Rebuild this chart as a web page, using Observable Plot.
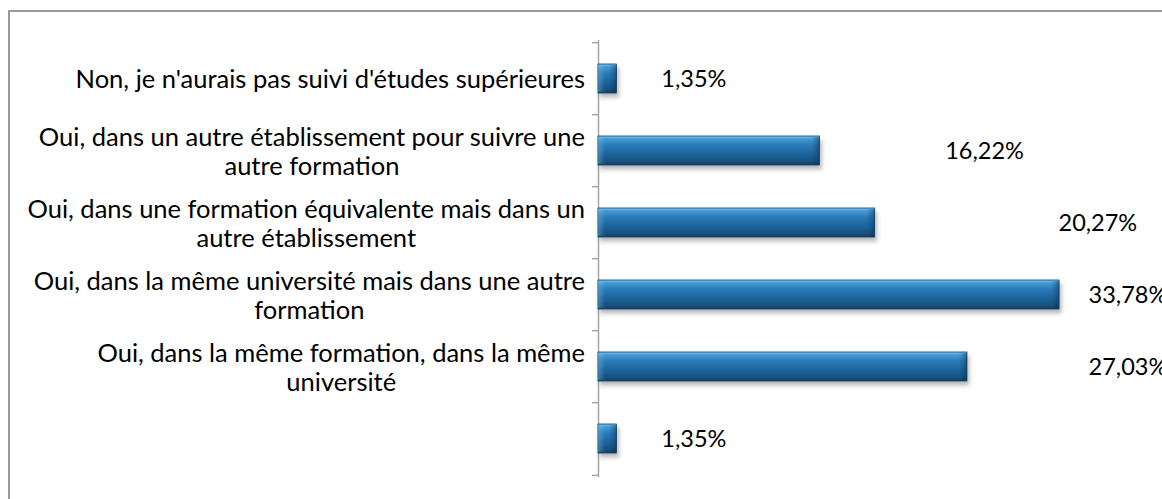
<!DOCTYPE html>
<html>
<head>
<meta charset="utf-8">
<script src="https://cdn.jsdelivr.net/npm/d3@7"></script>
<script src="https://cdn.jsdelivr.net/npm/@observablehq/plot@0.6"></script>
<style>
  html, body { margin: 0; padding: 0; background: #fff; }
  #wrap { position: relative; width: 1162px; height: 499px; overflow: hidden; background: #fff; }
  #frame { position: absolute; left: 8px; top: 10px; width: 1300px; height: 700px; border: 2px solid #9a9a9a; box-sizing: border-box; }
  #chart { position: absolute; left: 0; top: 0; }
</style>
</head>
<body>
<div id="wrap"><div id="frame"></div><div id="chart"></div></div>
<script>
const categories = [
  "Non, je n'aurais pas suivi d'études supérieures",
  "Oui, dans un autre établissement pour suivre une\nautre formation",
  "Oui, dans une formation équivalente mais dans un\nautre établissement",
  "Oui, dans la même université mais dans une autre\nformation",
  "Oui, dans la même formation, dans la même\nuniversité",
  ""
];
const values = [1.35, 16.22, 20.27, 33.78, 27.03, 1.35];
const valueLabels = ["1,35%", "16,22%", "20,27%", "33,78%", "27,03%", "1,35%"];
const labelX = [4.6, 25.4, 33.7, 35.9, 35.9, 4.6];

const data = categories.map((c, i) => ({cat: c, value: values[i], label: valueLabels[i], lx: labelX[i]}));

const FONT = "Lato, 'Liberation Sans', sans-serif";
const axisColor = "#a6a6a6";

const svg = Plot.plot({
  width: 1162,
  height: 499,
  marginLeft: 598,
  marginRight: 18,
  marginTop: 40,
  marginBottom: 22,
  style: {fontFamily: FONT, fontSize: "22px", color: "#000", background: "transparent", overflow: "visible"},
  x: {domain: [0, 40], axis: null},
  y: {domain: categories, axis: null, paddingInner: 0.6, paddingOuter: 0.3},
  marks: [
    Plot.ruleX([0], {stroke: axisColor, strokeWidth: 1.5}),
    Plot.ruleY(categories, {y: d => d, x1: -0.45, x2: 0, dy: -36.4, stroke: axisColor, strokeWidth: 1.5}),
    Plot.ruleY(categories.slice(-1), {y: d => d, x1: -0.45, x2: 0, dy: 36.4, stroke: axisColor, strokeWidth: 1.5}),
    Plot.barX(data, {x: "value", y: "cat", fill: "url(#barGrad)", stroke: "#11426a", strokeWidth: 0.8}),
    // bevelled ends (decoration, anchored on the bar ends through the scales)
    Plot.barX(data, {x1: "value", x2: "value", y: "cat", insetLeft: -8, insetTop: 1, insetBottom: 1, fill: "url(#endGrad)"}),
    Plot.barX(data, {x1: 0, x2: 0, y: "cat", insetRight: -7, insetTop: 1, insetBottom: 1, fill: "url(#startGrad)"}),
    Plot.text(data, {x: 0, y: "cat", text: "cat", textAnchor: "middle", lineAnchor: "middle", lineHeight: 1.13, fontSize: 25.5, fill: "#000"}),
    Plot.text(data, {x: "lx", y: "cat", text: "label", textAnchor: "start", fontSize: 23.5, fill: "#000"})
  ]
});

document.getElementById("chart").appendChild(svg);

// gradient + shadow defs
const ns = "http://www.w3.org/2000/svg";
const defs = document.createElementNS(ns, "defs");
defs.innerHTML = `
  <linearGradient id="barGrad" x1="0" y1="0" x2="0" y2="1">
    <stop offset="0" stop-color="#7cc0ec"/>
    <stop offset="0.1" stop-color="#449bd6"/>
    <stop offset="0.3" stop-color="#2b7bb8"/>
    <stop offset="0.6" stop-color="#1e669f"/>
    <stop offset="0.88" stop-color="#16537f"/>
    <stop offset="1" stop-color="#0e3a5e"/>
  </linearGradient>
  <linearGradient id="endGrad" x1="0" y1="0" x2="1" y2="0">
    <stop offset="0" stop-color="#0a2c48" stop-opacity="0"/>
    <stop offset="0.6" stop-color="#0a2c48" stop-opacity="0.25"/>
    <stop offset="1" stop-color="#0a2c48" stop-opacity="0.5"/>
  </linearGradient>
  <linearGradient id="startGrad" x1="0" y1="0" x2="1" y2="0">
    <stop offset="0" stop-color="#8fd0f5" stop-opacity="0.35"/>
    <stop offset="1" stop-color="#8fd0f5" stop-opacity="0"/>
  </linearGradient>
  <filter id="barShadow" x="-5%" y="-30%" width="115%" height="190%">
    <feDropShadow dx="2" dy="4" stdDeviation="2.2" flood-color="#000" flood-opacity="0.28"/>
  </filter>`;
svg.insertBefore(defs, svg.firstChild);
const barG = svg.querySelector('g[aria-label="bar"]');
if (barG) barG.setAttribute("filter", "url(#barShadow)");

// right-align the centered label blocks to x = 585
const textGroups = svg.querySelectorAll('g[aria-label="text"]');
const labG = textGroups[0];
if (labG) {
  const svgLeft = svg.getBoundingClientRect().left;
  labG.querySelectorAll("text").forEach(t => {
    const r = t.getBoundingClientRect();
    if (r.width === 0) return;
    const shift = 585 - (r.right - svgLeft);
    const tr = t.getAttribute("transform") || "";
    t.setAttribute("transform", `translate(${shift},0) ` + tr);
  });
}
</script>
</body>
</html>
